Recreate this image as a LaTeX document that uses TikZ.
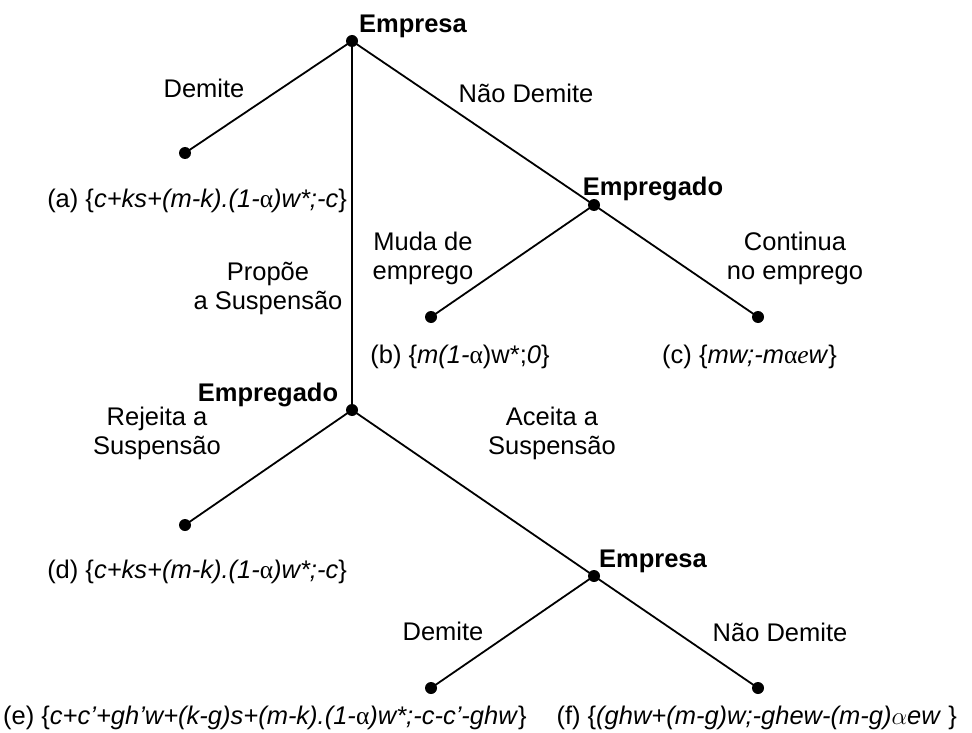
\documentclass[tikz,border=0pt]{standalone}
\usepackage{fontspec}
\setmainfont{Liberation Sans}
\newfontfamily\grk{Liberation Serif}
\begin{document}
\begin{tikzpicture}[x=1pt,y=-1pt,
  every node/.style={font=\fontsize{25.5}{29}\selectfont, inner sep=0pt},
  dot/.style={circle, fill=black, minimum size=12pt, inner sep=0pt},
  branch/.style={line width=1.8pt},
  lab/.style={align=center},
  bold/.style={font=\fontsize{25.5}{29}\selectfont\bfseries, anchor=base}]
\useasboundingbox (0,0) rectangle (972,733);
% decision nodes
\node[dot] (r) at (352,41) {};
\node[dot] (a) at (185,153) {};
\node[dot] (e1) at (594,205) {};
\node[dot] (b) at (431,317) {};
\node[dot] (c) at (758,317) {};
\node[dot] (e2) at (352,410) {};
\node[dot] (d) at (185,525) {};
\node[dot] (f1) at (594,576) {};
\node[dot] (e) at (431,688) {};
\node[dot] (f) at (758,688) {};
% branches
\draw[branch] (r.center) -- (a.center);
\draw[branch] (r.center) -- (e1.center);
\draw[branch] (r.center) -- (e2.center);
\draw[branch] (e1.center) -- (b.center);
\draw[branch] (e1.center) -- (c.center);
\draw[branch] (e2.center) -- (d.center);
\draw[branch] (e2.center) -- (f1.center);
\draw[branch] (f1.center) -- (e.center);
\draw[branch] (f1.center) -- (f.center);
% player labels
\node[bold] (lr) at (413,33) {Empresa};
\node[bold] (le1) at (653,195) {Empregado};
\node[bold] (le2) at (268,401) {Empregado};
\node[bold] (lf1) at (653,567) {Empresa};
% action labels
\node[lab] (l1) at (204,88) {Demite};
\node[lab] (l2) at (526,93) {Não Demite};
\node[lab] (l3) at (268,288) {Propõe\\a Suspensão};
\node[lab] (l4) at (423,258) {Muda de\\emprego};
\node[lab] (l5) at (795,258) {Continua\\no emprego};
\node[lab] (l6) at (157,433) {Rejeita a\\Suspensão};
\node[lab] (l7) at (552,433) {Aceita a\\Suspensão};
\node[lab] (l8) at (443,631) {Demite};
\node[lab] (l9) at (780,632) {Não Demite};
% payoffs
\node[anchor=base east] (pa) at (347,207) {(a) \{\textit{c+ks+(m-k).(1-}{\grk α}\textit{)w*;-c}\}};
\node[anchor=base] (pb) at (460,363) {(b) \{\textit{m(1-}{\grk α})w*;\textit{0}\}};
\node[anchor=base west] (pc) at (662,363) {(c) \{\textit{mw;-m}{\grk α\itshape e}\textit{w}\}};
\node[anchor=base east] (pd) at (347,578) {(d) \{\textit{c+ks+(m-k).(1-}{\grk α}\textit{)w*;-c}\}};
\node[anchor=base west] (pe) at (3,724) {(e) \{\textit{c+c’+gh’w+(k-g)s+(m-k).(1-}{\grk α}\textit{)w*;-c-c’-ghw}\}};
\node[anchor=base east] (pf) at (957,724) {(f) \{\textit{(ghw+(m-g)w;-ghew-(m-g)}$\alpha$\textit{ew }\}};
\end{tikzpicture}
\end{document}
